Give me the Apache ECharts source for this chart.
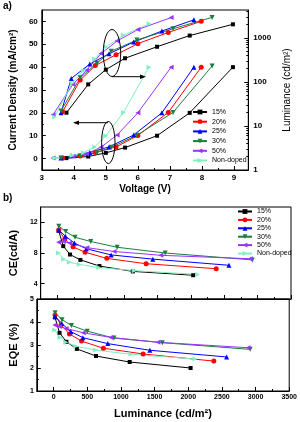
<!DOCTYPE html>
<html><head><meta charset="utf-8">
<script src="https://cdn.jsdelivr.net/npm/echarts@6/dist/echarts.min.js"></script>
<style>html,body{margin:0;padding:0;background:#fff}#c{width:300px;height:422px}</style>
</head><body><div id="c"></div>
<script>
// ---- data ----
const seriesNames = ['15%', '20%', '25%', '30%', '50%', 'Non-doped'];

// panel a) voltage (V), current density (mA/cm2), luminance (cd/m2)
const V_15 = [3.77, 4.45, 5.0, 5.6, 6.6, 7.62, 8.97];
const J_15 = [0.2, 0.9, 2.5, 4.8, 10, 20, 40];
const L_15 = [20, 88, 190, 345, 630, 1130, 2035];

const V_20 = [3.65, 4.2, 4.67, 5.32, 6.0, 6.95, 7.98];
const J_20 = [0.2, 1.1, 2.7, 5.1, 10.1, 20.2, 40];
const L_20 = [21, 110, 235, 415, 740, 1330, 2380];

const V_25 = [3.6, 3.92, 4.5, 5.1, 5.87, 6.75, 7.75];
const J_25 = [0.2, 1.2, 2.7, 5.1, 10.3, 20, 40];
const L_25 = [20, 120, 255, 435, 805, 1430, 2570];

const V_30 = [3.6, 4.2, 4.72, 5.17, 5.97, 7.1, 8.32];
const J_30 = [0.2, 1.1, 2.6, 4.9, 10.2, 20.2, 40.5];
const L_30 = [22, 125, 265, 500, 895, 1615, 2920];

const V_50 = [3.35, 3.97, 4.4, 4.85, 5.35, 6.0, 7.04];
const J_50 = [0.2, 0.9, 2.0, 5.0, 10.3, 20, 40];
const L_50 = [18, 88, 185, 440, 850, 1550, 2890];

const V_nd = [3.4, 3.95, 4.3, 4.65, 5.0, 5.55, 6.35];
const J_nd = [0.2, 1.3, 2.6, 5.1, 10, 20.2, 40];
const L_nd = [16, 95, 180, 330, 620, 1150, 2100];

// panel b) current efficiency (cd/A) and EQE (%) vs luminance
const CE_15 = [10.9, 8.9, 7.8, 7.1, 6.3, 5.6, 5.1];
const CE_20 = [11.0, 9.8, 8.8, 8.1, 7.3, 6.6, 5.95];
const CE_25 = [11.0, 10.2, 9.3, 8.55, 7.75, 7.2, 6.4];
const CE_30 = [11.5, 10.8, 10.05, 9.5, 8.75, 8.0, 7.1];
const CE_50 = [9.4, 9.5, 9.3, 8.7, 8.2, 7.7, 7.25];
const CE_nd = [8.0, 7.2, 6.8, 6.5, 6.1, 5.7, 5.2];

const EQE_15 = [4.2, 3.53, 3.14, 2.83, 2.52, 2.26, 2.0];
const EQE_20 = [4.3, 3.87, 3.48, 3.17, 2.86, 2.61, 2.3];
const EQE_25 = [4.25, 3.94, 3.58, 3.32, 3.06, 2.77, 2.48];
const EQE_30 = [4.4, 4.1, 3.85, 3.6, 3.3, 3.1, 2.81];
const EQE_50 = [3.87, 3.8, 3.72, 3.53, 3.33, 3.12, 2.88];
const EQE_nd = [3.65, 3.33, 3.12, 2.95, 2.78, 2.6, 2.39];

// tick labels
const voltTicks = [3, 4, 5, 6, 7, 8, 9];
const voltMinor = [3.5, 4.5, 5.5, 6.5, 7.5, 8.5, 9.5];
const jTicks = [0, 10, 20, 30, 40, 50, 60];
const jMinor = [5, 15, 25, 35, 45, 55];
const lumLogTicks = [1, 10, 100, 1000];
const lumLogMinor = [2,3,4,5,6,7,8,9,20,30,40,50,60,70,80,90,200,300,400,500,600,700,800,900,2000,3000,4000];
const lumTicks = [0, 500, 1000, 1500, 2000, 2500, 3000, 3500];
const lumMinor = [250, 750, 1250, 1750, 2250, 2750, 3250];
const ceTicks = [4, 8, 12];
const ceMinor = [6, 10];
const eqeTicks = [1, 2, 3, 4, 5];
const eqeMinor = [1.5, 2.5, 3.5, 4.5];

// ---- styling ----
const FONT = "'Liberation Sans', Arial, sans-serif";
const colors = ['#000000', '#ff0000', '#0000ff', '#1a7f3c', '#9933ff', '#80f0c0'];
const symbols = ['rect', 'circle', 'triangle', 'triangle', 'triangle', 'triangle'];
const rotates = [0, 0, 0, 180, 90, -90];

const Vs = [V_15, V_20, V_25, V_30, V_50, V_nd];
const Js = [J_15, J_20, J_25, J_30, J_50, J_nd];
const Ls = [L_15, L_20, L_25, L_30, L_50, L_nd];
const CEs = [CE_15, CE_20, CE_25, CE_30, CE_50, CE_nd];
const EQEs = [EQE_15, EQE_20, EQE_25, EQE_30, EQE_50, EQE_nd];

const lbl = (size) => ({ fontFamily: FONT, fontWeight: 'bold', fontSize: size, color: '#000' });

function mainAxis(o) {
  const a = {
    gridIndex: o.grid, type: o.type || 'value', min: o.min, max: o.max,
    position: o.position, offset: 0,
    splitLine: { show: false },
    axisLine: { show: true, onZero: false, lineStyle: { color: '#000', width: 1 } },
    axisTick: { show: true, inside: true, length: 4, customValues: o.ticks, lineStyle: { color: '#000', width: 1 } },
    axisLabel: Object.assign({ show: o.labels !== false, customValues: o.ticks, margin: o.margin || 3,
      formatter: v => String(Math.round(v * 1000) / 1000) }, lbl(o.fs || 8)),
    minorTick: { show: false }
  };
  if (o.logBase) a.logBase = o.logBase;
  if (o.name) {
    a.name = o.name; a.nameLocation = 'middle'; a.nameGap = o.nameGap;
    a.nameTextStyle = { fontFamily: FONT, fontWeight: o.nameWeight || 'bold', fontSize: o.nameSize || 10, color: '#000' };
  }
  return a;
}
function minorAxis(o) {
  const a = {
    gridIndex: o.grid, type: o.type || 'value', min: o.min, max: o.max,
    position: o.position, offset: 0,
    splitLine: { show: false },
    axisLine: { show: false, onZero: false },
    axisTick: { show: true, inside: true, length: 2, customValues: o.ticks, lineStyle: { color: '#000', width: 1 } },
    axisLabel: { show: false }
  };
  if (o.logBase) a.logBase = o.logBase;
  return a;
}

const xAxes = [
  mainAxis({ grid: 0, min: 3, max: 9.45, position: 'bottom', ticks: voltTicks, margin: 4, fs: 8,
    name: 'Voltage (V)', nameGap: 14, nameSize: 10 }),
  minorAxis({ grid: 0, min: 3, max: 9.45, position: 'bottom', ticks: voltMinor }),
  mainAxis({ grid: 1, min: -250, max: 3500, position: 'bottom', ticks: lumTicks, labels: false }),
  minorAxis({ grid: 1, min: -250, max: 3500, position: 'bottom', ticks: lumMinor }),
  mainAxis({ grid: 2, min: -250, max: 3500, position: 'bottom', ticks: lumTicks, margin: 3, fs: 7,
    name: 'Luminance (cd/m\u00b2)', nameGap: 17, nameSize: 11 }),
  minorAxis({ grid: 2, min: -250, max: 3500, position: 'bottom', ticks: lumMinor })
];
const yAxes = [
  mainAxis({ grid: 0, min: -5, max: 65, position: 'left', ticks: jTicks, margin: 4, fs: 8,
    name: 'Current Density (mA/cm\u00b2)', nameGap: 20, nameSize: 10 }),
  mainAxis({ grid: 0, type: 'log', logBase: 10, min: 1, max: 4300, position: 'right', ticks: lumLogTicks, margin: 5, fs: 8,
    name: 'Luminance (cd/m\u00b2)', nameGap: 31, nameSize: 10, nameWeight: 'normal' }),
  minorAxis({ grid: 0, min: -5, max: 65, position: 'left', ticks: jMinor }),
  minorAxis({ grid: 0, type: 'log', logBase: 10, min: 1, max: 4300, position: 'right', ticks: lumLogMinor }),
  mainAxis({ grid: 1, min: 2, max: 14, position: 'left', ticks: ceTicks, margin: 3, fs: 7,
    name: 'CE(cd/A)', nameGap: 8, nameSize: 11 }),
  minorAxis({ grid: 1, min: 2, max: 14, position: 'left', ticks: ceMinor }),
  mainAxis({ grid: 2, min: 1, max: 5, position: 'left', ticks: eqeTicks, margin: 3, fs: 7,
    name: 'EQE (%)', nameGap: 8, nameSize: 11 }),
  minorAxis({ grid: 2, min: 1, max: 5, position: 'left', ticks: eqeMinor })
];

const series = [];
function addSeries(xs, ys, xi, yi) {
  for (let k = 0; k < 6; k++) {
    series.push({
      name: seriesNames[k], type: 'line', xAxisIndex: xi, yAxisIndex: yi,
      data: xs[k].map((x, i) => [x, ys[k][i]]),
      symbol: symbols[k], symbolRotate: rotates[k], symbolSize: k === 0 ? 4 : 5,
      showSymbol: true, animation: false,
      lineStyle: { color: colors[k], width: 1 },
      itemStyle: { color: colors[k] }
    });
  }
}
addSeries(Vs, Js, 0, 0);
addSeries(Vs, Ls, 0, 1);
addSeries(Ls, CEs, 2, 4);
addSeries(Ls, EQEs, 4, 6);

const legendText = { fontFamily: FONT, fontSize: 7, color: '#000', lineHeight: 8 };

const option = {
  animation: false,
  backgroundColor: '#fff',
  grid: [
    { left: 37, top: 10, width: 215, height: 160, show: true, borderColor: '#000', borderWidth: 1, backgroundColor: 'transparent' },
    { left: 22.5, top: 207, width: 268.5, height: 92, show: true, borderColor: '#000', borderWidth: 1, backgroundColor: 'transparent' },
    { left: 22.5, top: 299, width: 268.5, height: 92, show: true, borderColor: '#000', borderWidth: 1, backgroundColor: 'transparent' }
  ],
  xAxis: xAxes,
  yAxis: yAxes,
  legend: [
    { data: seriesNames, orient: 'vertical', left: 192, top: 108, itemWidth: 14, itemHeight: 6, itemGap: 1.7,
      padding: 0, textStyle: legendText, selectedMode: false },
    { data: seriesNames, orient: 'vertical', left: 237, top: 207.5, itemWidth: 14, itemHeight: 6, itemGap: 0.4,
      padding: 0, textStyle: legendText, selectedMode: false }
  ],
  series: series,
  graphic: [
    { type: 'text', left: 3, top: 1, style: { text: 'a)', font: "bold 10px 'Liberation Sans', Arial, sans-serif", fill: '#000' } },
    { type: 'text', left: 3, top: 193, style: { text: 'b)', font: "bold 10px 'Liberation Sans', Arial, sans-serif", fill: '#000' } },
    { type: 'ellipse', shape: { cx: 112, cy: 53, rx: 8.7, ry: 23.5 }, style: { fill: 'none', stroke: '#000', lineWidth: 1 }, z: 100 },
    { type: 'line', shape: { x1: 112, y1: 76.7, x2: 141, y2: 76.7 }, style: { stroke: '#000', lineWidth: 1 }, z: 100 },
    { type: 'polygon', shape: { points: [[146, 76.7], [140, 74.5], [140, 78.9]] }, style: { fill: '#000' }, z: 100 },
    { type: 'ellipse', shape: { cx: 108.3, cy: 142.5, rx: 6.7, ry: 21 }, style: { fill: 'none', stroke: '#000', lineWidth: 1 }, z: 100 },
    { type: 'line', shape: { x1: 108, y1: 122.7, x2: 78, y2: 122.7 }, style: { stroke: '#000', lineWidth: 1 }, z: 100 },
    { type: 'polygon', shape: { points: [[73, 122.7], [79, 120.5], [79, 124.9]] }, style: { fill: '#000' }, z: 100 }
  ]
};

const chart = echarts.init(document.getElementById('c'), null, { renderer: 'canvas' });
chart.setOption(option);
</script></body></html>
